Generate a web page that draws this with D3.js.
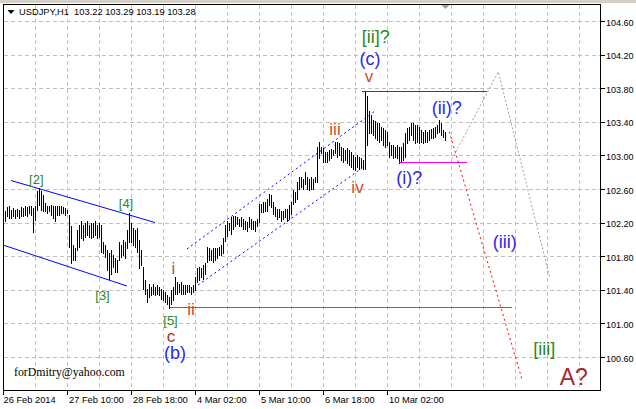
<!DOCTYPE html>
<html><head><meta charset="utf-8">
<script src="https://cdn.jsdelivr.net/npm/d3@7"></script>
<style>body{margin:0;background:#fff}svg{display:block}</style>
</head><body><svg id="c" width="636" height="409"></svg>
<script>
// ---------- data ----------
const symbol = "USDJPY,H1";
const lastOHLC = ["103.22", "103.29", "103.19", "103.28"];
const barHigh = [
102.34,102.39,102.40,102.36,102.38,102.36,102.37,102.36,102.39,102.38,
102.40,102.39,102.40,102.40,102.38,102.40,102.58,102.62,102.58,102.54,
102.44,102.40,102.40,102.42,102.40,102.40,102.40,102.40,102.40,102.39,
102.38,102.36,102.30,102.16,101.94,101.90,102.12,102.18,102.22,102.18,
102.20,102.22,102.18,102.20,102.20,102.22,102.18,102.20,102.18,101.98,
101.94,101.88,101.84,101.88,101.82,101.78,101.76,101.98,101.94,102.00,
101.98,102.12,102.32,102.20,102.14,102.12,102.14,102.00,101.88,101.68,
101.52,101.42,101.48,101.44,101.48,101.44,101.46,101.44,101.42,101.40,
101.38,101.34,101.32,101.40,101.44,101.56,101.50,101.48,101.50,101.46,
101.46,101.46,101.46,101.44,101.46,101.56,101.66,101.68,101.66,101.70,
101.72,101.92,101.90,101.88,101.90,101.90,101.90,101.92,101.94,102.02,
102.18,102.22,102.20,102.27,102.29,102.28,102.27,102.25,102.27,102.25,
102.23,102.21,102.27,102.25,102.23,102.23,102.25,102.43,102.43,102.45,
102.45,102.49,102.55,102.53,102.45,102.39,102.37,102.37,102.35,102.35,
102.37,102.37,102.41,102.45,102.59,102.57,102.69,102.75,102.75,102.73,
102.81,102.75,102.73,102.75,102.73,102.75,103.11,103.17,103.11,103.09,
103.05,103.05,103.07,103.08,103.07,103.17,103.17,103.15,103.11,103.09,
103.07,103.09,103.07,103.05,103.01,102.99,103.01,102.99,102.97,102.95,
103.77,103.71,103.53,103.49,103.43,103.41,103.39,103.39,103.35,103.33,
103.31,103.29,103.17,103.13,103.13,103.11,103.13,103.11,103.11,103.15,
103.27,103.33,103.35,103.39,103.39,103.37,103.37,103.35,103.31,103.29,
103.31,103.29,103.31,103.32,103.33,103.35,103.37,103.43,103.39,103.31,
103.29];
const barLow = [
102.22,102.28,102.26,102.26,102.28,102.26,102.28,102.26,102.28,102.28,
102.30,102.28,102.32,102.30,102.10,102.24,102.36,102.42,102.36,102.34,
102.34,102.32,102.34,102.30,102.26,102.22,102.30,102.30,102.32,102.32,
102.30,102.32,101.92,101.72,101.76,101.76,101.88,101.92,102.02,102.00,
102.04,102.06,102.04,102.02,102.04,102.06,102.02,102.04,101.86,101.84,
101.80,101.64,101.54,101.60,101.68,101.62,101.62,101.76,101.80,101.82,
101.78,101.90,101.98,101.98,101.94,101.92,101.86,101.66,101.70,101.42,
101.36,101.26,101.32,101.34,101.36,101.34,101.36,101.34,101.30,101.28,
101.26,101.24,101.19,101.24,101.28,101.36,101.36,101.38,101.36,101.36,
101.36,101.38,101.38,101.36,101.38,101.40,101.50,101.52,101.56,101.54,
101.60,101.74,101.76,101.76,101.74,101.76,101.78,101.82,101.82,101.84,
101.99,102.05,102.12,102.07,102.13,102.17,102.19,102.17,102.17,102.13,
102.13,102.11,102.15,102.13,102.13,102.11,102.17,102.21,102.33,102.33,
102.35,102.35,102.41,102.39,102.31,102.29,102.25,102.27,102.23,102.25,
102.27,102.23,102.25,102.31,102.43,102.45,102.49,102.61,102.63,102.61,
102.67,102.61,102.59,102.61,102.61,102.69,102.69,102.97,103.03,102.93,
102.93,102.93,102.95,102.97,103.01,103.03,102.99,103.01,102.95,102.93,
102.95,102.91,102.89,102.87,102.85,102.83,102.87,102.85,102.87,102.85,
102.85,103.13,103.27,103.27,103.25,103.21,103.19,103.17,103.19,103.13,
103.11,103.13,102.99,103.01,102.97,102.99,102.97,102.92,102.93,102.95,
102.99,103.15,103.19,103.25,103.19,103.15,103.17,103.15,103.17,103.15,
103.17,103.17,103.19,103.21,103.21,103.23,103.27,103.29,103.25,103.23,
103.19];
const priceTicks = [104.6,104.2,103.8,103.4,103.0,102.6,102.2,101.8,101.4,101.0,100.6];
const timeTickBars = [-1,31,63,95,127,159,191];
const timeTickLabels = ["26 Feb 2014","27 Feb 10:00","28 Feb 18:00","4 Mar 02:00","5 Mar 10:00","6 Mar 18:00","10 Mar 02:00"];
const gridBars = d3.range(15, 298, 16);

// trend lines as [bar, price] pairs
const channelSolidUpper = [[2.75,102.707],[74.75,102.207]];
const channelSolidLower = [[-1.25,101.939],[60.75,101.451]];
const channelDotUpper = [[90.75,101.892],[184.75,103.535]];
const channelDotLower = [[96.25,101.463],[179.75,102.88]];
const levelHigh = [[178,103.77],[240.6,103.77]];
const levelMid = [[196.75,102.92],[230.6,102.92]];
const levelLow = [[82.25,101.19],[253.4,101.19]];
const pathBear = [[221.9,103.288],[258.1,100.352]];
const pathAlt = [[223.25,102.963],[246.4,104.002],[272.25,101.543]];

// wave labels
const labelTexts = ["[2]","[3]","[4]","[5]","c","(b)","i","ii","iii","iv","v","(c)","[ii]?","(ii)?","(i)?","(iii)","[iii]","A?"];
const labelBars = [15.4,48.5,60.25,82.5,82.75,84.75,83.95,92.75,164.75,176,181.75,182.25,185.15,220.6,201.85,249.6,269.35,284.1];
const labelPrices = [102.665,101.29,102.374,100.981,100.779,100.578,101.594,101.106,103.249,102.555,103.883,104.088,104.344,103.493,102.66,101.904,100.624,100.273];

// ---------- drawing ----------
const svg = d3.select("#c");
const L = 3.5, R = 600.5, T = 4.5, B = 390.5;
const x = d3.scaleLinear().domain([0, 297]).range([5.5, 599.5]);
const y = d3.scaleLinear().domain([100.6, 104.6]).range([357.5, 21.5]);
const sans = "'Liberation Sans', Arial, sans-serif";

svg.append("rect").attr("x",0).attr("y",0).attr("width",636).attr("height",409).attr("fill","#fff");
svg.append("rect").attr("x",0).attr("y",0).attr("width",636).attr("height",3).attr("fill","#d4d0c8");

svg.append("defs").append("clipPath").attr("id","plot")
  .append("rect").attr("x",L).attr("y",T).attr("width",R-L).attr("height",B-T);

const g = svg.append("g").attr("clip-path","url(#plot)");

// grid
g.selectAll("line.vg").data(gridBars).join("line")
  .attr("x1",d=>x(d)).attr("x2",d=>x(d)).attr("y1",T).attr("y2",B)
  .attr("stroke","#c0c0c0").attr("stroke-dasharray","4,3").attr("shape-rendering","crispEdges");
g.selectAll("line.hg").data(priceTicks).join("line")
  .attr("x1",L).attr("x2",R).attr("y1",d=>Math.round(y(d)-0.5)+0.5).attr("y2",d=>Math.round(y(d)-0.5)+0.5)
  .attr("stroke","#c0c0c0").attr("stroke-dasharray","4,3").attr("shape-rendering","crispEdges");

// bars
g.selectAll("line.bar").data(barHigh).join("line")
  .attr("x1",(d,i)=>x(i)).attr("x2",(d,i)=>x(i))
  .attr("y1",d=>Math.round(y(d))).attr("y2",(d,i)=>Math.round(y(barLow[i]))+1)
  .attr("stroke","#000").attr("stroke-width",1).attr("shape-rendering","crispEdges");

const line = d3.line().x(d=>x(d[0])).y(d=>y(d[1]));
function drawLine(pts, color, dash, crisp){
  g.append("path").attr("d", line(pts)).attr("fill","none").attr("stroke",color)
    .attr("stroke-width",1).attr("stroke-dasharray",dash||null)
    .attr("shape-rendering", crisp ? "crispEdges" : null);
}
drawLine(channelSolidUpper, "#0000ff");
drawLine(channelSolidLower, "#0000ff");
drawLine(channelDotUpper, "#0000ff", "2,3");
drawLine(channelDotLower, "#0000ff", "2,3");
drawLine(levelHigh, "#e00000", null, true);
drawLine(levelMid, "#ff00ff", null, true);
drawLine(levelLow, "#ff00ff", null, true);
drawLine(pathBear, "#ff0000", "2,3");
drawLine(pathAlt, "#a0a0a0", "2,2");

// labels
function labelStyle(t){
  if (/^\[\d\]$/.test(t)) return {c:"#2a8a2a", s:13};
  if (/^\[/.test(t)) return {c:"#2a8a2a", s:18};
  if (/^\(/.test(t)) return {c:"#2a2af0", s:18};
  if (t === "c") return {c:"#b02a2a", s:17};
  if (t === "A?") return {c:"#a52a2a", s:23};
  return {c:"#c8502d", s:17};
}
g.selectAll("text.lab").data(labelTexts).join("text")
  .attr("x",(d,i)=>x(labelBars[i])).attr("y",(d,i)=>y(labelPrices[i]))
  .attr("text-anchor","middle").attr("font-family",sans)
  .attr("font-size",d=>labelStyle(d).s+"px").attr("fill",d=>labelStyle(d).c)
  .text(d=>d);

// watermark
svg.append("text").attr("x",14).attr("y",376).attr("font-family","'Liberation Serif', 'Times New Roman', serif")
  .attr("font-size","11.8px").attr("fill","#000").text("forDmitry@yahoo.com");

// shift marker
const lastX = x(barHigh.length-1);
svg.append("path").attr("d",`M${lastX-4},5 L${lastX+4},5 L${lastX},9 Z`).attr("fill","#a0a0a0");

// frame
svg.append("rect").attr("x",L).attr("y",T).attr("width",R-L).attr("height",B-T)
  .attr("fill","none").attr("stroke","#000").attr("shape-rendering","crispEdges");

// price axis
const ya = svg.append("g");
ya.selectAll("line").data(priceTicks).join("line")
  .attr("x1",R).attr("x2",R+4).attr("y1",d=>Math.round(y(d)-0.5)+0.5).attr("y2",d=>Math.round(y(d)-0.5)+0.5)
  .attr("stroke","#000").attr("shape-rendering","crispEdges");
ya.selectAll("text").data(priceTicks).join("text")
  .attr("x",606).attr("y",d=>Math.round(y(d))+3.5)
  .attr("font-family",sans).attr("font-size","9px").attr("fill","#000")
  .text(d=>d3.format(".2f")(d));

// time axis
const xa = svg.append("g");
xa.selectAll("line").data(timeTickBars).join("line")
  .attr("x1",d=>x(d)).attr("x2",d=>x(d)).attr("y1",B).attr("y2",B+4)
  .attr("stroke","#000").attr("shape-rendering","crispEdges");
xa.selectAll("text").data(timeTickLabels).join("text")
  .attr("x",(d,i)=>x(timeTickBars[i])+ (i===0?0:1.5)).attr("y",403)
  .attr("font-family",sans).attr("font-size","9.3px").attr("fill","#000")
  .text(d=>d);

// title
svg.append("path").attr("d","M7.5,10 L14.5,10 L11,14 Z").attr("fill","#000");
svg.append("text").attr("x",19).attr("y",15).attr("font-family",sans).attr("font-size","9.3px")
  .attr("fill","#000").style("white-space","pre")
  .text(symbol + "  " + lastOHLC.join(" "));
</script>
</body></html>
